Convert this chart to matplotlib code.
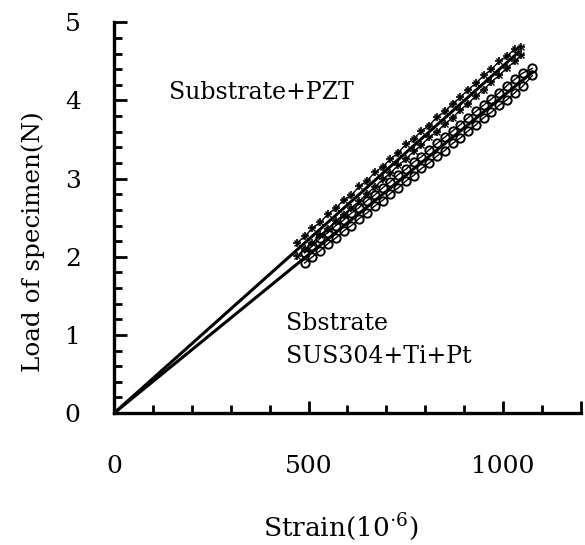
import matplotlib
matplotlib.use("Agg")
import matplotlib.pyplot as plt
from matplotlib.ticker import MultipleLocator, FixedLocator

# ---- data ----
pzt_strain = [470, 490, 510, 530, 550, 570, 590, 610, 630, 650, 670, 690, 710, 730, 750,
              770, 790, 810, 830, 850, 870, 890, 910, 930, 950, 970, 990, 1010, 1030, 1045]
pzt_load_a = [2.18, 2.26, 2.37, 2.44, 2.55, 2.62, 2.73, 2.79, 2.90, 2.97, 3.08, 3.15, 3.25, 3.33,
              3.44, 3.51, 3.61, 3.68, 3.79, 3.86, 3.96, 4.04, 4.14, 4.22, 4.32, 4.40, 4.50, 4.57, 4.66, 4.68]
pzt_load_b = [2.01, 2.10, 2.18, 2.28, 2.36, 2.46, 2.54, 2.63, 2.71, 2.81, 2.89, 2.99, 3.07, 3.17,
              3.25, 3.35, 3.43, 3.53, 3.60, 3.70, 3.78, 3.88, 3.96, 4.06, 4.14, 4.24, 4.32, 4.42, 4.50, 4.58]
pzt_fit_x = [0, 1040]
pzt_fit_y = [0, 4.62]

sus_strain = [490, 510, 530, 550, 570, 590, 610, 630, 650, 670, 690, 710, 730, 750, 770,
              790, 810, 830, 850, 870, 890, 910, 930, 950, 970, 990, 1010, 1030, 1050, 1075]
sus_load_a = [2.05, 2.14, 2.24, 2.31, 2.40, 2.47, 2.56, 2.63, 2.72, 2.79, 2.88, 2.96, 3.05, 3.12,
              3.21, 3.28, 3.37, 3.45, 3.53, 3.61, 3.69, 3.78, 3.86, 3.94, 4.02, 4.10, 4.19, 4.27, 4.35, 4.41]
sus_load_b = [1.92, 2.00, 2.08, 2.17, 2.24, 2.33, 2.40, 2.49, 2.56, 2.65, 2.72, 2.81, 2.88, 2.97,
              3.04, 3.13, 3.20, 3.29, 3.36, 3.45, 3.52, 3.61, 3.69, 3.78, 3.85, 3.94, 4.01, 4.10, 4.18, 4.32]
sus_fit_x = [0, 1075]
sus_fit_y = [0, 4.36]

x_major = [0, 500, 1000]
y_major = [0, 1, 2, 3, 4, 5]

fam = ["DejaVu Serif"]

fig = plt.figure(figsize=(5.85, 5.45), dpi=100)
ax = fig.add_axes([0.195, 0.242, 0.798, 0.717])

ax.plot(pzt_fit_x, pzt_fit_y, color="black", lw=2.2, zorder=3)
ax.plot(sus_fit_x, sus_fit_y, color="black", lw=2.2, zorder=3)
for ys in (pzt_load_a, pzt_load_b):
    ax.plot(pzt_strain, ys, ls="-", lw=1.0, color="black", marker="+", ms=6, mew=1.2, zorder=2)
    ax.plot(pzt_strain, ys, ls="none", marker="x", ms=4.5, mew=1.0, color="black", zorder=2)
for ys in (sus_load_a, sus_load_b):
    ax.plot(sus_strain, ys, ls="-", lw=1.0, color="black", marker="o", ms=6, mew=1.4,
            mfc="none", mec="black", zorder=2)

ax.set_xlim(0, 1200)
ax.set_ylim(0, 5)
ax.spines["top"].set_visible(False)
ax.spines["right"].set_visible(False)
ax.spines["left"].set_linewidth(2.4)
ax.spines["bottom"].set_linewidth(2.4)

ax.xaxis.set_major_locator(FixedLocator(x_major + [1200]))
ax.set_xticklabels([str(v) for v in x_major] + [""])
ax.xaxis.set_minor_locator(MultipleLocator(100))
ax.yaxis.set_major_locator(FixedLocator(y_major))
ax.yaxis.set_minor_locator(MultipleLocator(0.2))
ax.tick_params(axis="both", which="major", direction="in", length=9, width=2.0)
ax.tick_params(axis="both", which="minor", direction="in", length=6, width=2.0)
ax.tick_params(axis="x", which="major", pad=30, labelsize=18)
ax.tick_params(axis="y", which="major", pad=24, labelsize=18)
for lab in ax.get_xticklabels() + ax.get_yticklabels():
    lab.set_family(fam)

ax.set_xlabel("Strain(10$^{\\mathregular{\\cdot6}}$)", fontsize=19, family=fam, va="center")
ax.xaxis.set_label_coords(0.486, -0.29)
ax.set_ylabel("Load of specimen(N)", fontsize=17.7, family=fam, va="center")
ax.yaxis.set_label_coords(-0.173, 0.44)

ax.text(142, 4.1, "Substrate+PZT", fontsize=17, family=fam, va="center", ha="left")
ax.text(443, 1.15, "Sbstrate", fontsize=17, family=fam, va="center", ha="left")
ax.text(443, 0.72, "SUS304+Ti+Pt", fontsize=17, family=fam, va="center", ha="left")

fig.savefig("out.png", dpi=100)
